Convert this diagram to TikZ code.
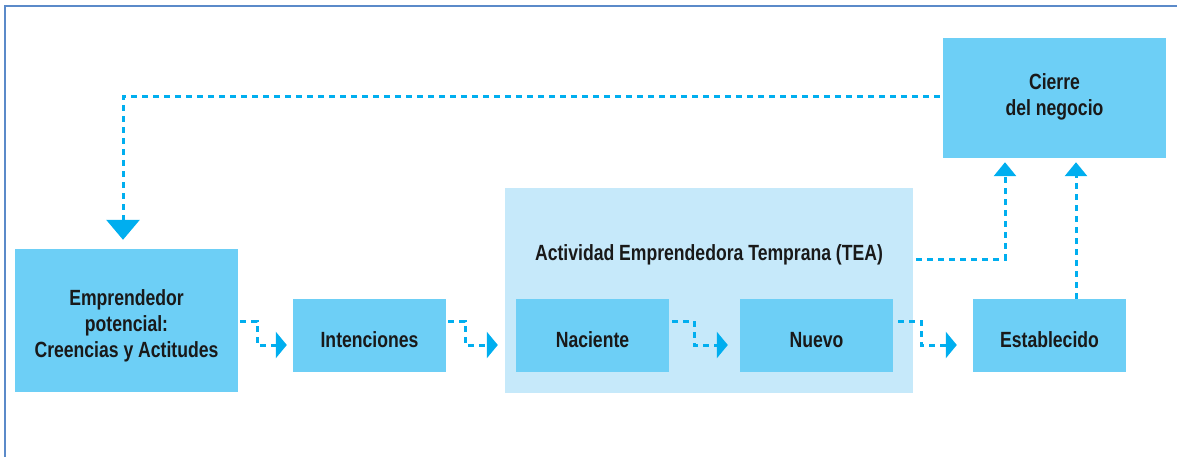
\documentclass[tikz,border=0pt]{standalone}
\usepackage{fontspec}
\setmainfont{Liberation Sans}[FakeStretch=0.8]
\usetikzlibrary{arrows.meta,calc}
\definecolor{boxblue}{HTML}{6DCFF6}
\definecolor{teablue}{HTML}{C6E9FA}
\definecolor{arrblue}{HTML}{00AEEF}
\definecolor{framebl}{HTML}{5B8AC9}
\begin{document}
\begin{tikzpicture}[x=1pt,y=-1pt,
  boxfont/.style={font=\fontsize{22}{26}\selectfont\bfseries,text=black!90},
  stagebox/.style={fill=boxblue,draw=none,inner sep=0pt,boxfont},
  oneline/.style={stagebox,text height=23pt,text depth=0pt},
  flow/.style={draw=arrblue,line width=3pt,dash pattern=on 6pt off 5pt},
  smalltip/.style={-{Triangle[width=26pt,length=11pt]}},
  uptip/.style={-{Triangle[width=22pt,length=14pt]}},
  bigtip/.style={-{Triangle[width=33pt,length=20pt]}}]
\useasboundingbox (0,0) rectangle (1177,457);
% frame
\draw[framebl,line width=2.5pt] (5,458) -- (5,6) -- (1178,6);
% TEA container
\node[fill=teablue,inner sep=0pt,minimum width=408pt,minimum height=205pt] (tea) at (709,290.5) {};
\node[boxfont,anchor=base,inner sep=0pt] (tealabel) at (709,260) {Actividad Emprendedora Temprana (TEA)};
% boxes
\node[stagebox,minimum width=223pt,minimum height=143pt,
  label={[boxfont,align=center,yshift=-5pt]center:{Emprendedor\\potencial:\\Creencias y Actitudes}}] (emp) at (126.5,320.5) {};
\node[oneline,minimum width=153pt,minimum height=73pt] (int) at (369.5,335.5) {Intenciones};
\node[oneline,minimum width=153pt,minimum height=73pt] (nac) at (592.5,335.5) {Naciente};
\node[oneline,minimum width=153pt,minimum height=73pt] (nue) at (816.5,335.5) {Nuevo};
\node[oneline,minimum width=153pt,minimum height=73pt] (est) at (1049.5,335.5) {Establecido};
\node[stagebox,minimum width=223pt,minimum height=120pt,
  label={[boxfont,align=center,yshift=1.5pt]center:{Cierre\\del negocio}}] (cie) at (1054.5,98) {};
% horizontal elbow connectors
\draw[flow,smalltip] ([xshift=2pt]emp.east |- 0,321) -- (257,321) |- ([xshift=-6pt]int.west |- 0,345);
\draw[flow,smalltip] ([xshift=2pt]int.east |- 0,321) -- (465,321) |- ([xshift=-7pt]tea.west |- 0,345);
\draw[flow,smalltip] ([xshift=3pt]nac.east |- 0,321) -- (694,321) |- ([xshift=-12pt]nue.west |- 0,345);
\draw[flow,smalltip] ([xshift=5pt]nue.east |- 0,321) -- (921,321) |- ([xshift=-16pt]est.west |- 0,345);
% to closure
\draw[flow,uptip,shorten >=4pt] ([xshift=3pt]tea.east |- 0,259) -| ([xshift=-49.5pt]cie.south);
\draw[flow,uptip,shorten >=4pt] ([xshift=26.5pt]est.north) -- ([xshift=26.5pt]est.north |- cie.south);
% feedback loop
\draw[flow,bigtip,shorten >=9pt] ([xshift=-3pt]cie.west |- 0,97) -| ([xshift=-3.5pt]emp.north);
\end{tikzpicture}
\end{document}
